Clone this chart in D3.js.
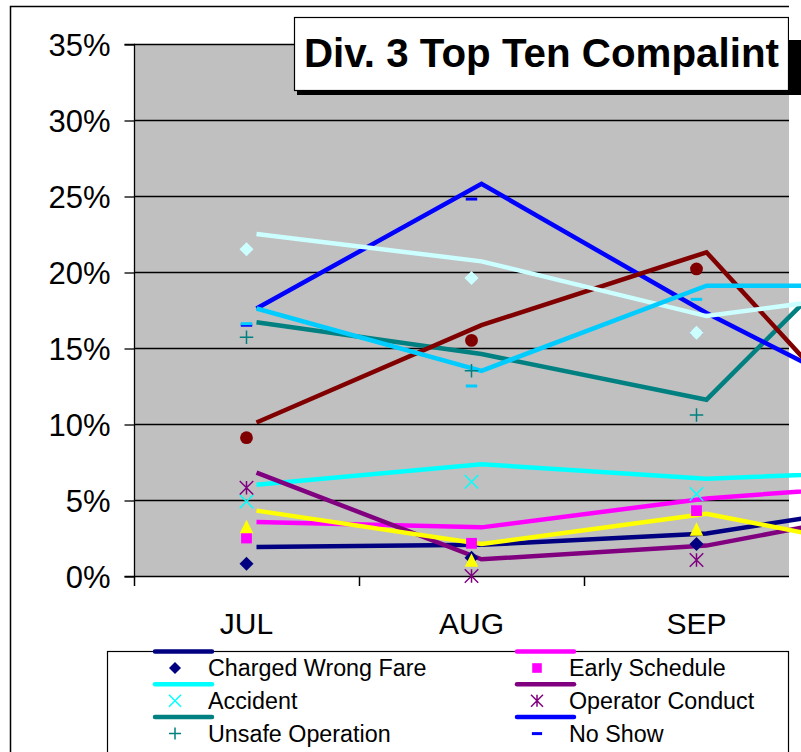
<!DOCTYPE html>
<html>
<head>
<meta charset="utf-8">
<script src="https://cdn.jsdelivr.net/npm/d3@7"></script>
<style>
  body { margin: 0; background: #fff; }
  svg { display: block; font-family: "Liberation Sans", Arial, sans-serif; }
</style>
</head>
<body>
<script>
// months on the category axis (the 4th one falls outside the cropped picture)
var months = ["JUL", "AUG", "SEP", "OCT"];

var seriesNames = ["Charged Wrong Fare", "Early Schedule", "Accident", "Operator Conduct",
    "Unsafe Operation", "No Show", "Complaint 7", "Complaint 8", "Complaint 9", "Complaint 10"];

// monthly share (%) shown as markers
var pointValues = [
    [0.8, 1.2, 2.1, null],
    [2.5, 2.15, 4.3, null],
    [4.9, 6.2, 5.4, null],
    [5.8, 0.0, 1.05, null],
    [15.7, 13.5, 10.6, null],
    [16.5, 24.8, 16.0, null],
    [9.1, 15.5, 20.2, null],
    [21.5, 19.6, 16.0, null],
    [3.25, 1.05, 3.1, null],
    [16.6, 12.5, 18.2, null]
];

// companion line series (%)
var lineValues = [
    [1.9, 2.05, 2.8, 5.1],
    [3.55, 3.2, 5.1, 6.2],
    [6.0, 7.35, 6.4, 7.0],
    [6.8, 1.1, 2.0, 4.8],
    [16.7, 14.6, 11.6, 26.4],
    [17.6, 25.8, 17.3, 9.8],
    [10.1, 16.5, 21.3, 5.1],
    [22.5, 20.7, 17.1, 19.05],
    [4.3, 2.1, 4.1, 1.2],
    [17.6, 13.5, 19.1, 19.1]
];

var yTicks = [0, 5, 10, 15, 20, 25, 30, 35];

// styles
var colors = ["#000080", "#ff00ff", "#00ffff", "#800080", "#008080", "#0000ff",
    "#800000", "#ccffff", "#ffff00", "#00ccff"];
var shapes = ["diamond", "square", "times", "asterisk", "plus", "dash",
    "circle", "diamond", "triangle", "dash"];

var width = 801, height = 752;
var plot = {left: 134, top: 44, bottom: 576, right: 789};

var svg = d3.select("body").append("svg")
    .attr("width", width)
    .attr("height", height);

// chart border
svg.append("rect")
    .attr("x", 10.5).attr("y", 6.5)
    .attr("width", 900).attr("height", 900)
    .attr("fill", "#fff").attr("stroke", "#000").attr("stroke-width", 1.5);

var x = d3.scaleBand().domain(months).range([plot.left, plot.left + 225 * months.length]);
var y = d3.scaleLinear().domain([0, 35]).range([plot.bottom, plot.top]);

svg.append("rect")
    .attr("x", plot.left).attr("y", plot.top)
    .attr("width", plot.right - plot.left).attr("height", plot.bottom - plot.top)
    .attr("fill", "#c0c0c0");

// gridlines
svg.append("g").selectAll("line")
    .data(yTicks.slice(1))
    .enter().append("line")
    .attr("x1", plot.left).attr("x2", plot.right)
    .attr("y1", function(d) { return y(d) + 0.5; })
    .attr("y2", function(d) { return y(d) + 0.5; })
    .attr("stroke", "#000").attr("stroke-width", 1.3);

// y axis
var yAxis = svg.append("g")
    .attr("transform", "translate(" + (plot.left + 0.5) + ",0.5)")
    .call(d3.axisLeft(y).tickValues(yTicks).tickSize(10).tickPadding(14)
        .tickFormat(function(d) { return d + "%"; }));
yAxis.selectAll("text").attr("font-size", 31).attr("fill", "#000").attr("font-family", null).attr("dy", "0.36em");
yAxis.selectAll("line, path").attr("stroke", "#000").attr("stroke-width", 1.3);
yAxis.select(".domain").attr("d", "M-10," + plot.top + "H0V" + plot.bottom + "H-10");

// x axis
var xg = svg.append("g");
xg.append("line")
    .attr("x1", plot.left).attr("x2", plot.right)
    .attr("y1", plot.bottom + 0.5).attr("y2", plot.bottom + 0.5)
    .attr("stroke", "#000").attr("stroke-width", 1.5);
xg.selectAll(".tick")
    .data(months)
    .enter().append("line")
    .attr("x1", function(d) { return x(d) + 0.5; })
    .attr("x2", function(d) { return x(d) + 0.5; })
    .attr("y1", plot.bottom).attr("y2", plot.bottom + 10)
    .attr("stroke", "#000").attr("stroke-width", 1.5);
// only the labels that fall inside the cropped picture
xg.selectAll("text")
    .data(months.filter(function(d) { return x(d) + x.bandwidth() / 2 < plot.right; }))
    .enter().append("text")
    .attr("x", function(d) { return x(d) + x.bandwidth() / 2; })
    .attr("y", 634)
    .attr("text-anchor", "middle")
    .attr("font-size", 30)
    .text(function(d) { return d; });

// marker path generator
function markerPath(shape, s) {
    var h = s / 2;
    switch (shape) {
        case "diamond": return "M0," + (-h) + "L" + h + ",0L0," + h + "L" + (-h) + ",0Z";
        case "square": return "M" + (-h * 0.8) + "," + (-h * 0.8) + "h" + (s * 0.8) + "v" + (s * 0.8) + "h" + (-s * 0.8) + "Z";
        case "triangle": return "M0," + (-h) + "L" + h + "," + h + "L" + (-h) + "," + h + "Z";
        case "circle": return d3.symbol().type(d3.symbolCircle).size(Math.PI * h * h * 0.9)();
        case "times": return "M" + (-h) + "," + (-h) + "L" + h + "," + h + "M" + h + "," + (-h) + "L" + (-h) + "," + h;
        case "plus": return "M" + (-h) + ",0H" + h + "M0," + (-h) + "V" + h;
        case "asterisk": return "M" + (-h) + "," + (-h) + "L" + h + "," + h + "M" + h + "," + (-h) + "L" + (-h) + "," + h + "M0," + (-h) + "V" + h;
        case "dash": return "M" + (-h * 0.85) + ",-1.5h" + (s * 0.85) + "v3h" + (-s * 0.85) + "Z";
    }
}
function isStroke(shape) { return shape === "times" || shape === "plus" || shape === "asterisk"; }

function drawMarker(sel, i, size) {
    var sh = shapes[i];
    sel.attr("d", markerPath(sh, size))
        .attr("fill", isStroke(sh) ? "none" : colors[i])
        .attr("stroke", isStroke(sh) ? colors[i] : "none")
        .attr("stroke-width", 1.5);
}

// lines
var lineOffset = 10;
var line = d3.line()
    .x(function(d, j) { return x(months[j]) + x.bandwidth() / 2 + lineOffset; })
    .y(function(d) { return y(d); });

svg.append("g").selectAll("path")
    .data(lineValues)
    .enter().append("path")
    .attr("d", line)
    .attr("fill", "none")
    .attr("stroke", function(d, i) { return colors[i]; })
    .attr("stroke-width", 4.5)
    .attr("stroke-linejoin", "miter");

// markers
pointValues.forEach(function(vals, i) {
    svg.append("g").selectAll("path")
        .data(vals.map(function(v, j) { return {v: v, m: months[j]}; }).filter(function(d) { return d.v !== null; }))
        .enter().append("path")
        .attr("transform", function(d) {
            return "translate(" + (x(d.m) + x.bandwidth() / 2) + "," + y(d.v) + ")";
        })
        .each(function() { drawMarker(d3.select(this), i, shapes[i] === "diamond" ? 14 : 13.5); });
});

// title box
var tb = svg.append("g");
tb.append("rect").attr("x", 297).attr("y", 20).attr("width", 600).attr("height", 75).attr("fill", "#000");
tb.append("rect").attr("x", 294.5).attr("y", 17.5).attr("width", 494).attr("height", 73)
    .attr("fill", "#fff").attr("stroke", "#000").attr("stroke-width", 1.2);
tb.append("text")
    .attr("x", 304).attr("y", 67)
    .attr("font-size", 40).attr("font-weight", "bold")
    .attr("textLength", 475).attr("lengthAdjust", "spacingAndGlyphs")
    .text("Div. 3 Top Ten Compalint");

// cover beyond the visible chart edge
svg.append("rect").attr("x", 789).attr("y", 0).attr("width", 20).attr("height", 40).attr("fill", "#fff");

// legend (only the visible part of the box)
var legend = svg.append("g");
legend.append("rect")
    .attr("x", 107.5).attr("y", 651.5).attr("width", 681).attr("height", 200)
    .attr("fill", "#fff").attr("stroke", "#000").attr("stroke-width", 1.2);

var legendCols = [{line: 155, marker: 175, text: 208}, {line: 517, marker: 537, text: 569}];
seriesNames.slice(0, 6).forEach(function(name, i) {
    var col = legendCols[i % 2];
    var row = Math.floor(i / 2);
    var ly = 651.5 + row * 32.8;
    legend.append("line")
        .attr("x1", col.line).attr("x2", col.line + 57)
        .attr("y1", ly).attr("y2", ly)
        .attr("stroke", colors[i]).attr("stroke-width", 4.5)
        .attr("stroke-linecap", "round");
    legend.append("path")
        .attr("transform", "translate(" + col.marker + "," + (ly + 16.5) + ")")
        .call(function(s) { drawMarker(s, i, 12); });
    legend.append("text")
        .attr("x", col.text).attr("y", ly + 24.5)
        .attr("font-size", 23.3)
        .text(name);
});
</script>
</body>
</html>
